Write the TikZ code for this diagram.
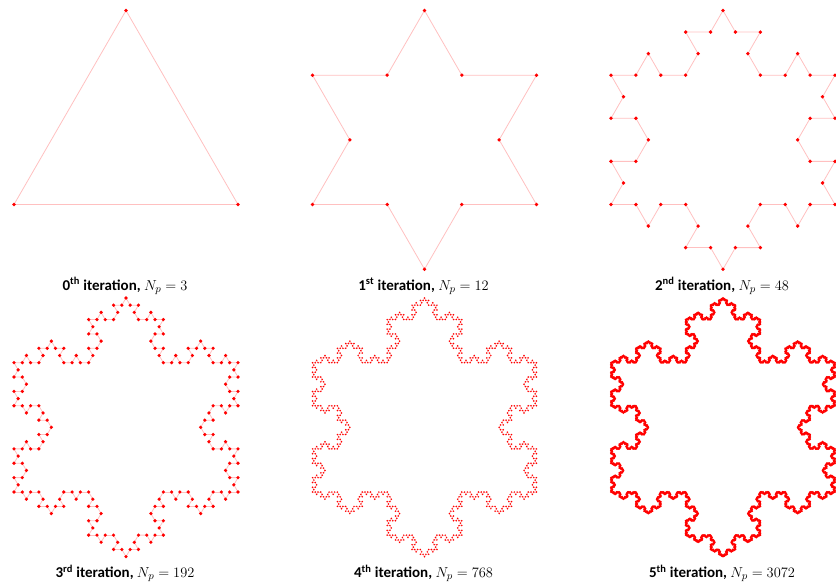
\documentclass[tikz,border=0pt]{standalone}
\usepackage{fontspec}
\setmainfont{Carlito}
\definecolor{kochline}{RGB}{255,192,192}
\definecolor{kochdot}{RGB}{255,0,0}

% one side of the curve: level, x1, y1, x2, y2
\newcommand\kochside[5]{%
  \ifnum#1=0
    \kochemit{#2}{#3}{#4}{#5}%
  \else
    \begingroup
    \pgfmathsetmacro\kdx{((#4)-(#2))/3}%
    \pgfmathsetmacro\kdy{((#5)-(#3))/3}%
    \pgfmathsetmacro\kax{(#2)+\kdx}%
    \pgfmathsetmacro\kay{(#3)+\kdy}%
    \pgfmathsetmacro\kbx{\kax+0.5*\kdx+0.8660254*\kdy}%
    \pgfmathsetmacro\kby{\kay+0.5*\kdy-0.8660254*\kdx}%
    \pgfmathsetmacro\kcx{(#2)+2*\kdx}%
    \pgfmathsetmacro\kcy{(#3)+2*\kdy}%
    \pgfmathtruncatemacro\klev{#1-1}%
    \edef\knext{%
      \noexpand\kochside{\klev}{#2}{#3}{\kax}{\kay}%
      \noexpand\kochside{\klev}{\kax}{\kay}{\kbx}{\kby}%
      \noexpand\kochside{\klev}{\kbx}{\kby}{\kcx}{\kcy}%
      \noexpand\kochside{\klev}{\kcx}{\kcy}{#4}{#5}}%
    \knext
    \endgroup
  \fi}
\newcommand\kochline[4]{\draw[kline] (#1,#2) -- (#3,#4);}
\newcommand\kochdot[4]{\fill[kdot] (#1,#2) circle[radius=\kdotr];}
% whole snowflake: level, x offset, y offset
\newcommand\snowflake[3]{%
  \pgfmathsetmacro\sax{14+#2}\pgfmathsetmacro\say{204.5+#3}%
  \pgfmathsetmacro\sbx{126+#2}\pgfmathsetmacro\sby{10.5+#3}%
  \pgfmathsetmacro\scx{238+#2}%
  \kochside{#1}{\sax}{\say}{\sbx}{\sby}%
  \kochside{#1}{\sbx}{\sby}{\scx}{\say}%
  \kochside{#1}{\scx}{\say}{\sax}{\say}}

\begin{document}
\begin{tikzpicture}[x=1pt,y=-1pt,
kline/.style={draw=kochline,line width=0.8pt,line join=round},
kdot/.style={fill=kochdot},
caption/.style={anchor=base,inner sep=0pt,font=\fontsize{15}{18}\selectfont\bfseries}]
\useasboundingbox (0,0) rectangle (836,582);
% lines first, then the points on top
\let\kochemit\kochline
\foreach \lev/\col/\row in {0/0/0,1/1/0,2/2/0,3/0/1,4/1/1,5/2/1}
  \snowflake{\lev}{\col*298.5}{\row*287.5};
\let\kochemit\kochdot
\foreach \lev/\col/\row/\kdotr in {0/0/0/1.9,1/1/0/1.9,2/2/0/1.9,3/0/1/1.8,4/1/1/0.85,5/2/1/1.05}
  \snowflake{\lev}{\col*298.5}{\row*287.5};
% captions
\node[caption] (cap0) at (125,290) {0\textsuperscript{th} iteration, $N_p = 3$};
\node[caption] (cap1) at (423.5,290) {1\textsuperscript{st} iteration, $N_p = 12$};
\node[caption] (cap2) at (722,290) {2\textsuperscript{nd} iteration, $N_p = 48$};
\node[caption] (cap3) at (125,577.5) {3\textsuperscript{rd} iteration, $N_p = 192$};
\node[caption] (cap4) at (423.5,577.5) {4\textsuperscript{th} iteration, $N_p = 768$};
\node[caption] (cap5) at (722,577.5) {5\textsuperscript{th} iteration, $N_p = 3072$};
\end{tikzpicture}
\end{document}
